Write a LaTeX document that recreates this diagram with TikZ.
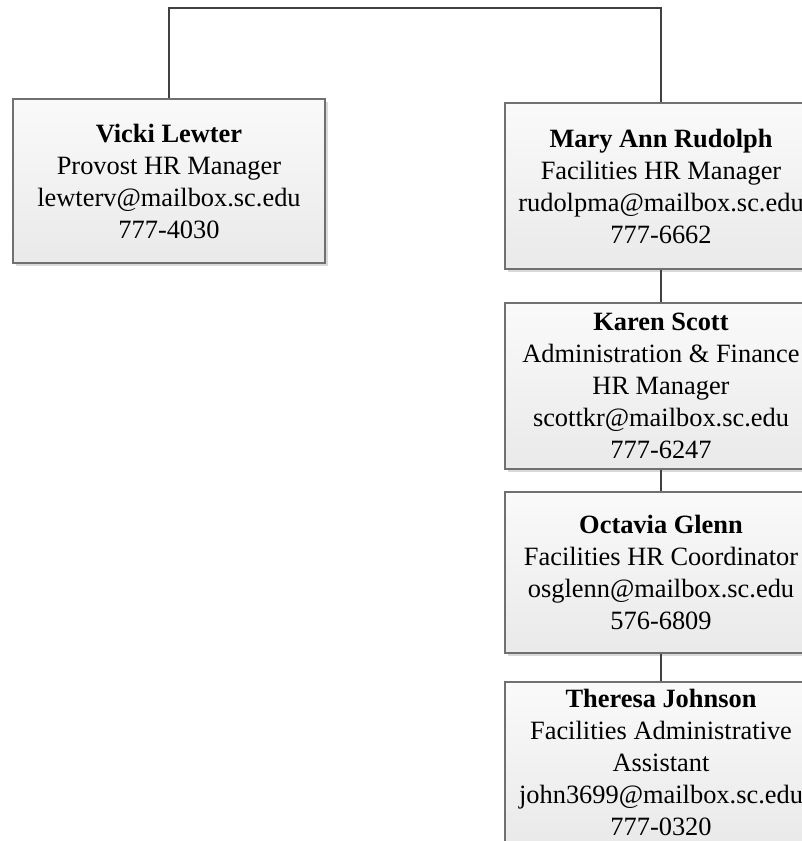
\documentclass[tikz,border=0pt]{standalone}
\usepackage{fontspec}
\setmainfont{Liberation Serif}
\usetikzlibrary{shadows}
\definecolor{conn}{HTML}{404040}
\definecolor{bord}{HTML}{707070}
\tikzset{
  person/.style={draw=bord, line width=1.1bp, top color=gray!4, bottom color=gray!17,
    drop shadow={shadow xshift=3bp, shadow yshift=-3bp, fill=gray!30, opacity=1},
    minimum width=312bp, align=center, inner sep=0pt,
    font=\fontsize{26.4bp}{32bp}\selectfont},
  link/.style={draw=conn, line width=2bp}
}
\begin{document}
\begin{tikzpicture}[x=1bp,y=-1bp]
\useasboundingbox (0,0) rectangle (802,841);
\clip (0,0) rectangle (802,841);
\node[person, minimum height=164bp] (vicki) at (169,181)
  {\textbf{Vicki Lewter}\\Provost HR Manager\\lewterv@mailbox.sc.edu\\777-4030};
\node[person, minimum height=166bp] (mary) at (661,186)
  {\textbf{Mary Ann Rudolph}\\Facilities HR Manager\\rudolpma@mailbox.sc.edu\\777-6662};
\node[person, minimum height=166bp] (karen) at (661,386)
  {\textbf{Karen Scott}\\Administration \& Finance\\HR Manager\\scottkr@mailbox.sc.edu\\777-6247};
\node[person, minimum height=161bp] (octavia) at (661,572.5)
  {\textbf{Octavia Glenn}\\Facilities HR Coordinator\\osglenn@mailbox.sc.edu\\576-6809};
\node[person, minimum height=160bp] (theresa) at (661,762)
  {\textbf{Theresa Johnson}\\Facilities Administrative\\Assistant\\john3699@mailbox.sc.edu\\777-0320};
\draw[link] (vicki.north) -- ++(0,-90) coordinate (topleft) -| (mary.north);
\draw[link] (mary.south) -- (karen.north);
\draw[link] (karen.south) -- (octavia.north);
\draw[link] (octavia.south) -- (theresa.north);
\end{tikzpicture}
\end{document}
